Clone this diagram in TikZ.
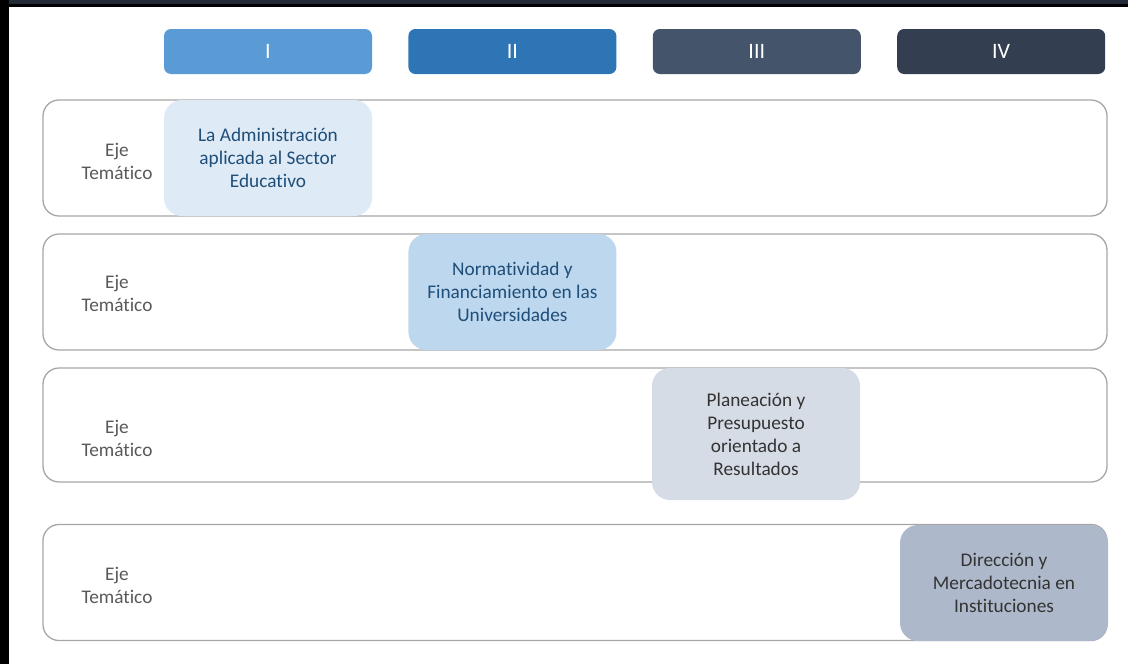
\documentclass[tikz,border=0pt]{standalone}
\usepackage{fontspec}
\setmainfont{Carlito}[Ligatures=NoCommon]
\usetikzlibrary{positioning}
\definecolor{hdrI}{HTML}{5B9BD5}
\definecolor{hdrII}{HTML}{2E75B6}
\definecolor{hdrIII}{HTML}{44546A}
\definecolor{hdrIV}{HTML}{333F50}
\definecolor{boxI}{HTML}{DEEBF7}
\definecolor{boxII}{HTML}{BDD7EE}
\definecolor{boxIII}{HTML}{D6DCE5}
\definecolor{boxIV}{HTML}{ADB9CA}
\definecolor{rowline}{HTML}{A6A6A6}
\definecolor{labgray}{HTML}{595959}
\definecolor{bluetext}{HTML}{1F4E79}
\definecolor{graytext}{HTML}{333333}
\definecolor{topband}{HTML}{232B38}

\begin{document}
\begin{tikzpicture}[x=1pt, y=-1pt, node distance = 36pt]
        \tikzset{Header/.style = {rounded corners=7pt,
            minimum width=208pt, minimum height=45pt,
            inner sep=0pt, text=white,
            font=\fontsize{22}{24}\selectfont}}
        \tikzset{RowBox/.style = {draw=rowline, line width=1.3pt,
            rounded corners=16pt, minimum width=1064pt, inner sep=0pt}}
        \tikzset{Topic/.style = {rounded corners=18pt,
            minimum width=208pt, inner sep=0pt, align=center,
            font=\fontsize{19.3}{23}\selectfont}}
        \tikzset{EjeLabel/.style = {align=center, text=labgray,
            font=\fontsize{19.3}{23}\selectfont}}
        \useasboundingbox (0,0) rectangle (1128,664);
        % frame of the slide
        \fill[topband] (0,0) rectangle (1128,4);
        \fill[black] (0,4) rectangle (1128,7);
        \fill[black] (0,0) rectangle (9,664);
        % headers
        \node[Header, fill=hdrI] (HI) at (268,51.5) {I};
        \node[Header, fill=hdrII, right=of HI] (HII) {II};
        \node[Header, fill=hdrIII, right=of HII] (HIII) {III};
        \node[Header, fill=hdrIV, right=of HIII] (HIV) {IV};
        % rows
        \node[RowBox, minimum height=116pt] (R1) at (575,158) {};
        \node[RowBox, minimum height=116pt] (R2) at (575,292) {};
        \node[RowBox, minimum height=114pt] (R3) at (575,425) {};
        \node[RowBox, minimum height=116pt] (R4) at (575,582.5) {};
        \node[EjeLabel] (E1) at (117,161) {Eje\\Temático};
        \node[EjeLabel] (E2) at (117,293) {Eje\\Temático};
        \node[EjeLabel] (E3) at (117,438) {Eje\\Temático};
        \node[EjeLabel] (E4) at (117,585) {Eje\\Temático};
        % topics
        \node[Topic, fill=boxI, text=bluetext, minimum height=116pt]
            (T1) at (HI |- R1) {La Administración\\aplicada al Sector\\Educativo};
        \node[Topic, fill=boxII, text=bluetext, minimum height=116pt]
            (T2) at (HII |- R2) {Normatividad y\\Financiamiento en las\\Universidades};
        \node[Topic, fill=boxIII, text=graytext, minimum height=132pt]
            (T3) at (756,434) {Planeación y\\Presupuesto\\orientado a\\Resultados};
        \node[Topic, fill=boxIV, text=graytext, minimum height=116pt]
            (T4) at (1004,583) {Dirección y\\Mercadotecnia en\\Instituciones};
\end{tikzpicture}
\end{document}
